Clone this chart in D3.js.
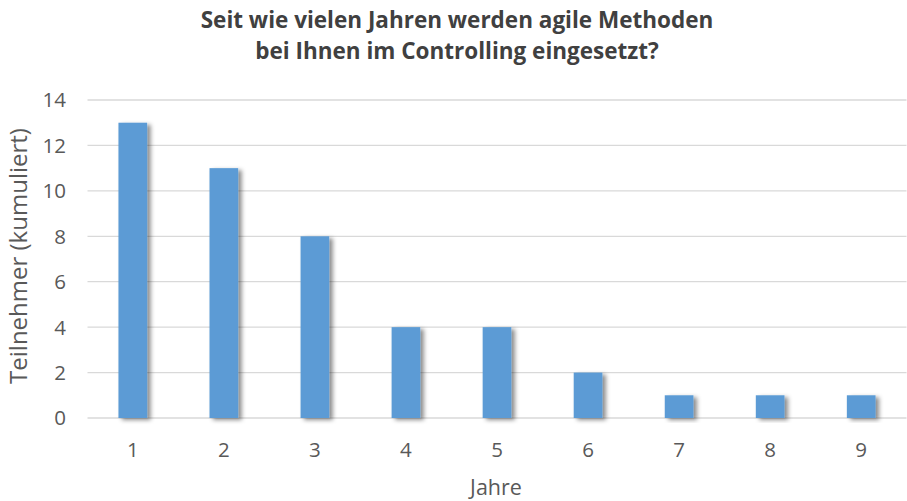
<!DOCTYPE html>
<html><head><meta charset="utf-8">
<script src="https://cdn.jsdelivr.net/npm/d3@7"></script>
<style>body{margin:0;background:#fff}svg{display:block}</style>
</head><body>
<svg id="c" width="907" height="501"></svg>
<script>
const categories = ["1","2","3","4","5","6","7","8","9"];
const values = [13, 11, 8, 4, 4, 2, 1, 1, 1];
const yTicks = [0, 2, 4, 6, 8, 10, 12, 14];
const titleLines = ["Seit wie vielen Jahren werden agile Methoden", "bei Ihnen im Controlling eingesetzt?"];
const xTitle = "Jahre";
const yTitle = "Teilnehmer (kumuliert)";

(function(){
const svg = d3.select("#c");
const font = "'Open Sans', 'Noto Sans', sans-serif";
const pL = 87.5, pR = 906.5, pT = 100, pB = 418;

const x = d3.scaleBand().domain(categories).range([pL, pR]).paddingInner(0.685).paddingOuter(0.34);
const y = d3.scaleLinear().domain([0, 14]).range([pB, pT]);

const defs = svg.append("defs");
const f = defs.append("filter").attr("id","sh").attr("x","-50%").attr("y","-20%").attr("width","200%").attr("height","140%");
f.append("feDropShadow").attr("dx",3.5).attr("dy",2).attr("stdDeviation",2).attr("flood-color","#000").attr("flood-opacity",0.45);

svg.append("g").selectAll("line").data(yTicks).join("line")
  .attr("x1", pL).attr("x2", pR)
  .attr("y1", d => y(d)).attr("y2", d => y(d))
  .attr("stroke", "#d9d9d9").attr("stroke-width", 1.3);

svg.append("g").selectAll("text").data(yTicks).join("text")
  .attr("x", 66).attr("y", d => y(d)).attr("dy", "0.36em")
  .attr("text-anchor", "end").attr("font-family", font).attr("font-size", 20.5).attr("fill", "#595959")
  .text(d => d);

svg.append("g").selectAll("rect").data(values).join("rect")
  .attr("x", (d,i) => x(categories[i]))
  .attr("width", x.bandwidth())
  .attr("y", d => y(d))
  .attr("height", d => y(0) - y(d))
  .attr("fill", "#5b9bd5")
  .attr("filter", "url(#sh)");

const xax = svg.append("g").attr("transform", `translate(0,${pB})`)
  .call(d3.axisBottom(x).tickSize(0).tickPadding(24));
xax.select(".domain").remove();
xax.selectAll("text").attr("font-family", font).attr("font-size", 20.5).attr("fill", "#595959");

svg.append("g").selectAll("text").data(titleLines).join("text")
  .attr("x", 457).attr("y", (d,i) => 28 + i*31)
  .attr("text-anchor","middle").attr("font-family", font).attr("font-weight","bold")
  .attr("font-size", 22.5).attr("fill", "#404040").text(d => d);

svg.append("text").attr("x", 496).attr("y", 495)
  .attr("text-anchor","middle").attr("font-family", font).attr("font-size", 21.5).attr("fill","#595959").text(xTitle);

svg.append("text").attr("transform", `translate(27,256) rotate(-90)`)
  .attr("text-anchor","middle").attr("font-family", font).attr("font-size", 24).attr("fill","#595959").text(yTitle);
})();
</script>
</body></html>
